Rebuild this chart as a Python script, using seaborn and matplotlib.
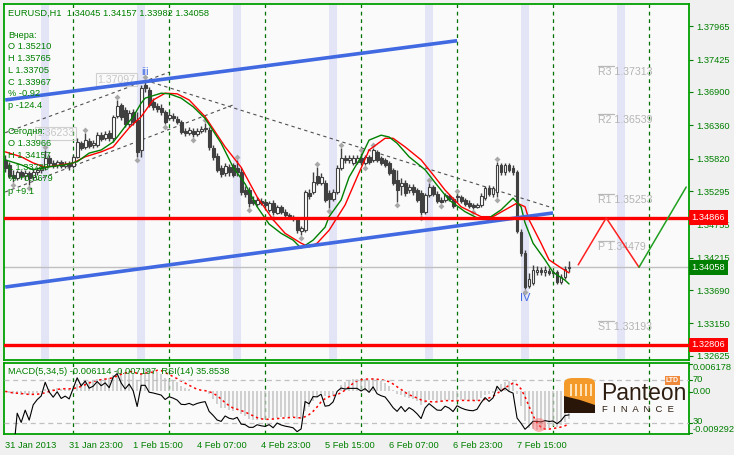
import numpy as np
import pandas as pd
import matplotlib
matplotlib.use("Agg")
import matplotlib.pyplot as plt
import matplotlib.transforms as mtransforms
from matplotlib.patches import FancyBboxPatch, Polygon, Ellipse, Rectangle
import seaborn as sns

# ---------------- data (EURUSD H1, 31 Jan 07:00 .. 8 Feb 04:00) ----------------
opens = [1.3580,1.3572,1.3556,1.3551,1.3560,1.3554,1.3559,1.3552,1.3560,1.3564,
         1.3568,1.3583,1.3575,1.3572,1.3577,1.3570,1.3573,1.3570,1.3585,1.3607,
         1.3601,1.3611,1.3604,1.3604,1.3620,1.3615,1.3624,1.3615,1.3651,1.3669,
         1.3661,1.3638,1.3658,1.3645,1.3596,1.3701,1.3693,1.3674,1.3667,1.3664,
         1.3658,1.3648,1.3651,1.3646,1.3641,1.3627,1.3624,1.3627,1.3622,1.3627,
         1.3630,1.3628,1.3599,1.3586,1.3567,1.3559,1.3568,1.3572,1.3567,1.3560,
         1.3531,1.3531,1.3515,1.3508,1.3513,1.3512,1.3499,1.3510,1.3494,1.3504,
         1.3496,1.3491,1.3488,1.3484,1.3465,1.3466,1.3526,1.3528,1.3554,1.3543,
         1.3543,1.3526,1.3517,1.3528,1.3567,1.3583,1.3580,1.3575,1.3577,1.3583,
         1.3575,1.3585,1.3580,1.3593,1.3583,1.3580,1.3575,1.3564,1.3547,1.3538,
         1.3543,1.3531,1.3536,1.3531,1.3526,1.3496,1.3523,1.3536,1.3525,1.3515,
         1.3515,1.3521,1.3517,1.3521,1.3520,1.3515,1.3510,1.3507,1.3504,1.3507,
         1.3518,1.3534,1.3525,1.3528,1.3572,1.3560,1.3572,1.3567,1.3560,1.3463,
         1.3429,1.3376,1.3381,1.3398,1.3402,1.3398,1.3400,1.33966,1.3398,1.3382,
         1.3390,1.34045]
highs = [1.3588,1.3577,1.3564,1.3564,1.3564,1.3564,1.3562,1.3567,1.3568,1.3572,
         1.3596,1.3588,1.3580,1.3580,1.3580,1.3578,1.3578,1.3588,1.3615,1.3611,
         1.3624,1.3615,1.3612,1.3625,1.3625,1.3627,1.3628,1.3653,1.3677,1.3672,
         1.3666,1.3661,1.3662,1.3658,1.3701,1.37097,1.3698,1.3680,1.3672,1.3671,
         1.3661,1.3658,1.3656,1.3651,1.3645,1.3632,1.3633,1.3632,1.3632,1.3635,
         1.3640,1.3633,1.3604,1.3591,1.3572,1.3575,1.3573,1.3575,1.3580,1.3567,
         1.3538,1.3536,1.3521,1.3520,1.3518,1.3515,1.3513,1.3515,1.3507,1.3507,
         1.3500,1.3494,1.3491,1.3488,1.3473,1.3531,1.3533,1.3560,1.3568,1.3559,
         1.3547,1.3531,1.3533,1.3572,1.3599,1.3588,1.3588,1.3588,1.3588,1.3591,
         1.3588,1.3588,1.3599,1.3596,1.3586,1.3583,1.3578,1.3567,1.3564,1.3551,
         1.3547,1.3541,1.3541,1.3534,1.3531,1.3526,1.3543,1.3539,1.3530,1.3520,
         1.3526,1.3525,1.3520,1.3525,1.3523,1.3518,1.3515,1.3510,1.3510,1.3526,
         1.3538,1.3539,1.3538,1.35765,1.3575,1.3575,1.3575,1.3572,1.3564,1.3468,
         1.3434,1.3397,1.3410,1.3408,1.3406,1.3408,1.3405,1.3402,1.3402,1.3395,
         1.3408,1.34157]
lows = [1.3560,1.3551,1.3544,1.3547,1.3549,1.3547,1.3539,1.3547,1.3556,1.3559,
        1.3564,1.3570,1.3567,1.3567,1.3567,1.3567,1.3564,1.3567,1.3583,1.3596,
        1.3597,1.3599,1.3599,1.3601,1.3611,1.3612,1.3611,1.3609,1.3648,1.3645,
        1.3633,1.3633,1.3637,1.3585,1.3585,1.3690,1.3666,1.3661,1.3658,1.3653,
        1.3638,1.3645,1.3643,1.3638,1.3622,1.3619,1.3620,1.3617,1.3619,1.3624,
        1.3625,1.3596,1.3580,1.3560,1.3552,1.3554,1.3554,1.3552,1.3554,1.3523,
        1.3520,1.3504,1.3507,1.3505,1.3507,1.3504,1.3496,1.3491,1.3492,1.3492,
        1.3488,1.3484,1.3481,1.3461,1.3458,1.3463,1.3517,1.3525,1.3539,1.3539,
        1.3512,1.3502,1.3513,1.3525,1.3564,1.3575,1.3575,1.3572,1.3573,1.3573,
        1.3572,1.3573,1.3577,1.3577,1.3572,1.3568,1.3556,1.3539,1.3512,1.3523,
        1.3521,1.3526,1.3523,1.3512,1.3491,1.3492,1.3520,1.3521,1.3510,1.3510,
        1.3512,1.3513,1.3502,1.3512,1.3510,1.3505,1.3502,1.3500,1.3502,1.3504,
        1.3515,1.3521,1.3520,1.3520,1.3556,1.3556,1.3560,1.3556,1.3461,1.3424,
        1.33705,1.3372,1.3377,1.3394,1.3394,1.3392,1.3394,1.3394,1.3379,1.3379,
        1.3387,1.33982]
closes = [1.3567,1.3554,1.3551,1.3560,1.3554,1.3559,1.3551,1.3560,1.3564,1.3567,
          1.3583,1.3575,1.3570,1.3577,1.3570,1.3573,1.3570,1.3585,1.3609,1.3599,
          1.3612,1.3602,1.3607,1.3620,1.3614,1.3622,1.3615,1.3650,1.3667,1.3650,
          1.3638,1.3656,1.3641,1.3593,1.3696,1.3696,1.3669,1.3666,1.3662,1.3658,
          1.3641,1.3653,1.3648,1.3641,1.3625,1.3624,1.3628,1.3622,1.3627,1.3630,
          1.3632,1.3601,1.3585,1.3564,1.3557,1.3570,1.3560,1.3556,1.3560,1.3528,
          1.3525,1.3510,1.3510,1.3515,1.3510,1.3507,1.3510,1.3496,1.3504,1.3496,
          1.3491,1.3488,1.3484,1.3466,1.3470,1.3528,1.3521,1.3544,1.3543,1.3552,
          1.3515,1.3517,1.3528,1.3567,1.3583,1.3580,1.3583,1.3583,1.3583,1.3577,
          1.3585,1.3577,1.3596,1.3580,1.3575,1.3572,1.3559,1.3543,1.3531,1.3543,
          1.3526,1.3536,1.3528,1.3515,1.3496,1.3523,1.3536,1.3525,1.3513,1.3512,
          1.3523,1.3517,1.3505,1.3520,1.3513,1.3508,1.3505,1.3504,1.3507,1.3521,
          1.3534,1.3525,1.3534,1.3572,1.3560,1.3572,1.3564,1.3560,1.3465,1.3429,
          1.3374,1.3387,1.3402,1.3402,1.3398,1.3402,1.33967,1.3398,1.3382,1.3390,
          1.3404,1.34058]

# moving averages (bar index, price)
green_idx = [0,4,7,10,15,18,21,24,27,28,30,32,34,35,39,41,44,47,50,54,57,60,63,66,69,72,
             74,77,80,81,84,86,89,91,94,96,98,101,105,108,111,115,118,121,124,127,129,130,
             132,135,137,140,141]
green_val = [1.3580,1.3572,1.3564,1.3568,1.3572,1.3577,1.3591,1.3596,1.3609,1.3617,1.3634,
             1.3650,1.3672,1.3680,1.3688,1.3687,1.3680,1.3666,1.3647,1.3607,1.3568,1.3541,
             1.3504,1.3476,1.3461,1.3450,1.3437,1.3450,1.3471,1.3488,1.3515,1.3552,1.3585,
             1.3612,1.3620,1.3617,1.3607,1.3585,1.3564,1.3539,1.3515,1.3496,1.3486,1.3486,
             1.3499,1.3518,1.3504,1.3478,1.3445,1.3418,1.3398,1.3385,1.3379]
red_idx = [0,4,7,10,14,17,20,24,27,31,34,37,40,43,46,50,55,59,63,67,70,74,76,78,81,85,88,
           91,95,97,100,104,107,110,114,119,122,125,128,130,131,134,136,139,141]
red_val = [1.3593,1.3585,1.3575,1.3568,1.3572,1.3575,1.3585,1.3593,1.3601,1.3632,1.3650,
           1.3677,1.3688,1.3687,1.3677,1.3650,1.3601,1.3568,1.3520,1.3483,1.3461,1.3445,
           1.3439,1.3445,1.3466,1.3507,1.3552,1.3596,1.3615,1.3615,1.3601,1.3580,1.3556,
           1.3531,1.3504,1.3488,1.3488,1.3499,1.3510,1.3504,1.3483,1.3445,1.3418,1.3405,
           1.3397]

# fractal bars
frac_up = [10,20,28,35,50,58,78,84,89,92,106,113,123]
frac_dn = [2,6,33,40,47,61,67,74,81,90,98,104,109,117,123,130]

# drawn objects
channel_up_x, channel_up_y = [0, 113], [1.3677, 1.3773]
channel_dn_x, channel_dn_y = [0, 137], [1.3374, 1.3494]
trend1_x, trend1_y = [0, 41], [1.3624, 1.3722]
trend2_x, trend2_y = [0, 57], [1.3528, 1.3669]
trend3_x, trend3_y = [35, 137], [1.3709, 1.3502]
zig_red_x, zig_red_y = [143.3, 150.3, 158.5], [1.3410, 1.3486, 1.3406]
zig_grn_x, zig_grn_y = [158.5, 170.3], [1.3406, 1.3536]
level_lines = [1.34866, 1.32806]
last_price = 1.34058
pivots = [("R3", 1.37313), ("R2", 1.36539), ("R1", 1.35253), ("P", 1.34479), ("S1", 1.33193)]

day_starts = [17, 41, 65, 89, 113, 137, 161]
bands = [10, 34, 58, 82, 106, 130, 154]
price_ticks = [1.37965, 1.37425, 1.36900, 1.36360, 1.35820, 1.35295, 1.34755,
               1.34215, 1.33690, 1.33150, 1.32625]
time_pos = [0, 16, 32, 48, 64, 80, 96, 112, 128]
time_lbl = ["31 Jan 2013", "31 Jan 23:00", "1 Feb 15:00", "4 Feb 07:00", "4 Feb 23:00",
            "5 Feb 15:00", "6 Feb 07:00", "6 Feb 23:00", "7 Feb 15:00"]

info_lines = ["Вчера:", "O 1.35210", "H 1.35765", "L 1.33705", "C 1.33967", "% -0.92",
              "p -124.4"]
today_lines = ["Сегодня:", "O 1.33966", "H 1.34157", "L 1.33780", "% +0.0679", "p +9.1"]

# ---------------- style ----------------
sns.set_style("white")
plt.rcParams['font.family'] = ['Liberation Sans', 'DejaVu Sans']
GREEN = '#008000'
FS = 6.7
W, H = 734, 455

def fx(x):
    return x / W

def fy(y):
    return 1 - y / H

fig = plt.figure(figsize=(W / 100, H / 100), dpi=100, facecolor='#F0F0F0')
ax = fig.add_axes([fx(4), fy(360), (689 - 4) / W, 356 / H])
mx = fig.add_axes([fx(4), fy(434), (689 - 4) / W, 71 / H])

n = len(closes)
idx = np.arange(n)
df = pd.DataFrame({"i": idx, "o": opens, "h": highs, "l": lows, "c": closes})

for a in (ax, mx):
    a.set_facecolor('#FAFAFA')
    a.set_xlim(-0.3, 171)
    for s in a.spines.values():
        s.set_color('#00A000')
        s.set_linewidth(1.3)
ax.set_ylim(1.32558, 1.38325)

# bands and day separators
for b in bands:
    ax.axvspan(b - 1, b + 1, color='#E3E5F7', lw=0, zorder=0)
for d in day_starts:
    for a in (ax, mx):
        a.axvline(d, color='#007000', lw=0.9, ls=(0, (3, 3)), zorder=1)

# price level lines
ax.axhline(last_price, color='#C0C0C0', lw=1, zorder=1)

# dashed trend lines
for tx, ty in [(trend1_x, trend1_y), (trend2_x, trend2_y), (trend3_x, trend3_y)]:
    ax.plot(tx, ty, color='#505050', lw=0.8, ls=(0, (3, 3)), zorder=2)

# candles
up = df[df.c >= df.o]
dn = df[df.c < df.o]
ax.vlines(df.i, df.l, df.h, color='#404040', lw=1, zorder=3)
ax.bar(up.i, (up.c - up.o).clip(lower=0.00004), bottom=up.o, width=0.72,
       color='white', edgecolor='#404040', lw=0.8, zorder=4)
ax.bar(dn.i, (dn.o - dn.c), bottom=dn.c, width=0.72,
       color='#404040', edgecolor='#404040', lw=0.8, zorder=4)

# fractals
off_up = mtransforms.offset_copy(ax.transData, fig=fig, y=3, units='dots')
off_dn = mtransforms.offset_copy(ax.transData, fig=fig, y=-3, units='dots')
ax.scatter(df.i[frac_up], df.h[frac_up], marker='D', s=9, color='#A8A8A8',
           transform=off_up, zorder=5, lw=0)
ax.scatter(df.i[frac_dn], df.l[frac_dn], marker='D', s=9, color='#A8A8A8',
           transform=off_dn, zorder=5, lw=0)

# moving averages
sns.lineplot(x=red_idx, y=red_val, ax=ax, color='#FF0000', lw=1, zorder=6)
sns.lineplot(x=green_idx, y=green_val, ax=ax, color='#008000', lw=1, zorder=6)

# channel + horizontals
ax.plot(channel_up_x, channel_up_y, color='#4169E1', lw=2.6, zorder=7, solid_capstyle='butt')
ax.plot(channel_dn_x, channel_dn_y, color='#4169E1', lw=2.6, zorder=7, solid_capstyle='butt')
for lv in level_lines:
    ax.axhline(lv, color='#FF0000', lw=2.4, zorder=7)

# projection zigzag
ax.plot(zig_red_x, zig_red_y, color='#FF2020', lw=1.1, zorder=7)
ax.plot(zig_grn_x, zig_grn_y, color='#20A020', lw=1.1, zorder=7)

# pivot labels
for name, lv in pivots:
    ax.plot([148.2, 152.2], [lv, lv], color='#B8B8B8', lw=0.9, zorder=2)
    ax.text(148.3, lv, f"{name} {lv:.5f}", color='#B4B4B4', fontsize=7.6,
            va='top', ha='left', zorder=2,
            transform=mtransforms.offset_copy(ax.transData, fig=fig, y=-1, units='dots'))

# marks
ax.text(35, 1.37097, "iii", color='#4169E1', fontsize=8, ha='center', va='bottom',
        transform=mtransforms.offset_copy(ax.transData, fig=fig, y=3, units='dots'))
ax.text(130, 1.33705, "IV", color='#4169E1', fontsize=8, ha='center', va='top',
        transform=mtransforms.offset_copy(ax.transData, fig=fig, y=-4, units='dots'))
ax.text(27.8, 1.37097, "1.37097", color='#C8C8C8', fontsize=7.6, ha='center', va='center',
        bbox=dict(boxstyle='square,pad=0.15', fc='none', ec='#D0D0D0', lw=0.8), zorder=2)
ax.text(12.5, 1.36233, "1.36233", color='#C8C8C8', fontsize=7.6, ha='center', va='center',
        bbox=dict(boxstyle='square,pad=0.15', fc='none', ec='#D0D0D0', lw=0.8), zorder=2)

# right price axis
ax.yaxis.tick_right()
ax.set_yticks(price_ticks)
ax.set_yticklabels([f"{v:.5f}" for v in price_ticks])
ax.tick_params(axis='y', colors=GREEN, labelsize=FS, length=3, width=0.8, pad=2,
               direction='out', right=True, left=False)
ax.set_xticks([])
bt = mtransforms.blended_transform_factory(ax.transAxes, ax.transData)
for lv, col in [(1.34866, '#FF0000'), (1.32806, '#FF0000'), (last_price, '#008000')]:
    ax.text(1.0035, lv, f"{lv:.5f}", transform=bt, color='white', fontsize=FS,
            ha='left', va='center', zorder=10, clip_on=False,
            bbox=dict(boxstyle='square,pad=0.28', fc=col, ec=col, lw=0))

# ---------------- MACD / RSI panel ----------------
close = pd.Series(closes)
macd_main = close.ewm(span=5, adjust=False).mean() - close.ewm(span=34, adjust=False).mean()
macd_sig = macd_main.rolling(5, min_periods=1).mean()
delta = close.diff().fillna(0)
gain = delta.clip(lower=0).ewm(alpha=1 / 14, adjust=False).mean()
loss = (-delta.clip(upper=0)).ewm(alpha=1 / 14, adjust=False).mean()
rsi = 100 - 100 / (1 + gain / loss.replace(0, np.nan))

mx.set_ylim(-0.009292, 0.006178)
mx.vlines(idx, 0, macd_main, color='#C4C4C4', lw=1.1, zorder=2)
sns.lineplot(x=idx, y=macd_sig.values, ax=mx, color='#FF0000', lw=1.1, ls=(0, (1.5, 2)), zorder=3)
rx = mx.twinx()
rx.set_ylim(19.8, 85.8)
rx.axhline(70, color='#C0C0C0', lw=0.9, ls=(0, (4, 3)), zorder=1)
rx.axhline(30, color='#C0C0C0', lw=0.9, ls=(0, (4, 3)), zorder=1)
sns.lineplot(x=idx[1:], y=rsi.values[1:], ax=rx, color='#000000', lw=0.8, zorder=4)
rx.set_xlim(-0.3, 171)
for s in rx.spines.values():
    s.set_visible(False)
rx.set_ylabel("")
rx.set_yticks([])
mx.set_yticks([])

mx.set_xticks(time_pos)
mx.set_xticklabels(time_lbl, ha='left')
mx.tick_params(axis='x', colors=GREEN, labelsize=FS, length=3, width=0.8, pad=2, direction='out')
for t in mx.get_xticklabels():
    t.set_color(GREEN)
mx.tick_params(axis='x', color='#303030')

# right labels of indicator window
for txt, y, va in [("0.006178", 368, 'center'), ("70", 379, 'center'), ("0.00", 392, 'center'),
                   ("30", 421, 'center'), ("-0.009292", 429, 'center')]:
    fig.text(fx(693), fy(y), txt, color=GREEN, fontsize=FS, ha='left', va=va)
for y in (364, 380, 392, 423, 433):
    fig.add_artist(plt.Line2D([fx(689), fx(692)], [fy(y), fy(y)], color=GREEN, lw=0.8))

fig.text(fx(8), fy(372), "MACD(5,34,5) -0.006114 -0.007197  RSI(14) 35.8538", color=GREEN,
         fontsize=FS, va='center', ha='left')

# red highlight circle
fig.add_artist(Ellipse((fx(539), fy(425)), 14 / W, 14 / H, color='#FF6060', alpha=0.45, lw=0))

# ---------------- info texts ----------------
fig.text(fx(8), fy(13), "EURUSD,H1  1.34045 1.34157 1.33982 1.34058", color=GREEN,
         fontsize=FS, va='center', ha='left')
for k, t in enumerate(info_lines):
    fig.text(fx(8), fy(35 + 11.8 * k), t, color=GREEN, fontsize=FS, va='center', ha='left')
for k, t in enumerate(today_lines):
    fig.text(fx(8), fy(131 + 12 * k), t, color=GREEN, fontsize=FS, va='center', ha='left')

# ---------------- logo ----------------
fig.add_artist(FancyBboxPatch((fx(564), fy(413)), 31 / W, 35 / H,
                              boxstyle='round,pad=0,rounding_size=0.012',
                              fc='#F39A2B', ec='none'))
fig.add_artist(Polygon([(fx(564), fy(396)), (fx(580), fy(400)), (fx(595), fy(405)),
                        (fx(595), fy(413)), (fx(564), fy(413))], closed=True,
                       fc='#2A1608', ec='none'))
for cxp in (570, 575, 580, 585, 590):
    fig.add_artist(Rectangle((fx(cxp), fy(396)), 2 / W, 12 / H, fc='#FFE2B8', ec='none'))
fig.text(fx(601), fy(394), "Panteon", color='#2E1E12', fontsize=16.5, ha='left', va='center')
fig.text(fx(602), fy(410), "F  I  N  A  N  C  E", color='#2E1E12', fontsize=6.8,
         ha='left', va='center')
fig.text(fx(672.5), fy(380.5), "LTD", color='white', fontsize=5, ha='center', va='center',
         fontweight='bold',
         bbox=dict(boxstyle='square,pad=0.2', fc='#F08A3C', ec='none'))

fig.savefig("out.png", dpi=100, facecolor=fig.get_facecolor())
